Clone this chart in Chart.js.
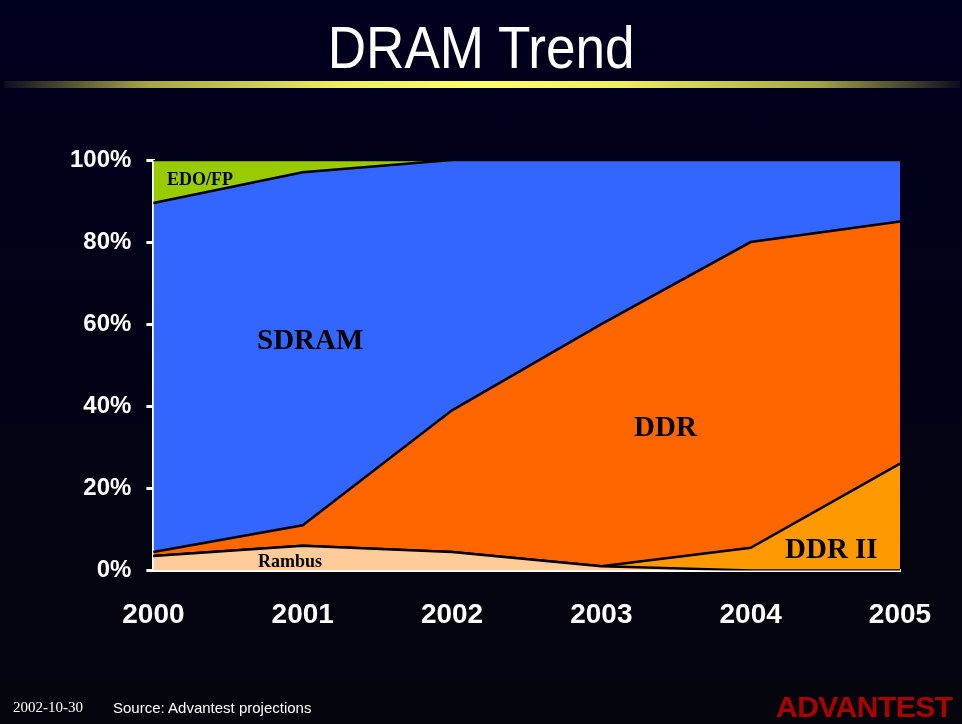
<!DOCTYPE html>
<html>
<head>
<meta charset="utf-8">
<script src="https://cdn.jsdelivr.net/npm/chart.js@4"></script>
<style>
  html, body { margin: 0; padding: 0; }
  body {
    width: 962px; height: 724px; overflow: hidden; position: relative;
    background: linear-gradient(180deg, #00001f 0%, #020214 55%, #05050d 100%);
    font-family: "Liberation Sans", Arial, sans-serif;
  }
  #title {
    position: absolute; left: 0; width: 962px; top: 13px; text-align: center;
    color: #fff; font-size: 59px; line-height: 70px;
    transform: scaleX(0.9); transform-origin: 483px 0;
  }
  #rule {
    position: absolute; left: 4px; width: 956px; top: 81px; height: 7px;
    background: linear-gradient(90deg, rgba(60,60,40,0.2) 0%, #a5a545 15%, #eded60 35%, #ffff66 50%, #eded60 65%, #a5a545 85%, rgba(60,60,40,0.2) 100%);
  }
  #wrap { position: absolute; left: 0; top: 0; width: 962px; height: 724px; }
  .lbl { position: absolute; font-family: "Liberation Serif", "Times New Roman", serif; font-weight: bold; color: #000; white-space: nowrap; }
  #date { position: absolute; left: 13px; top: 699px; color: #fff; font-family: "Liberation Serif", serif; font-size: 15px; }
  #src { position: absolute; left: 113px; top: 699px; color: #fff; font-size: 15px; }
  #logo { position: absolute; left: 776px; top: 690px; color: #aa0000; font-size: 30px; font-weight: bold; letter-spacing: -0.5px; }
</style>
</head>
<body>
<div id="title">DRAM Trend</div>
<div id="rule"></div>
<div id="wrap"><canvas id="chart" width="962" height="724"></canvas></div>
<div class="lbl" style="left:167px;top:169px;font-size:18px;">EDO/FP</div>
<div class="lbl" style="left:257px;top:323px;font-size:29px;">SDRAM</div>
<div class="lbl" style="left:634px;top:410px;font-size:29px;">DDR</div>
<div class="lbl" style="left:785px;top:532px;font-size:29px;">DDR II</div>
<div class="lbl" style="left:258px;top:551px;font-size:18px;">Rambus</div>
<div id="date">2002-10-30</div>
<div id="src">Source: Advantest projections</div>
<div id="logo">ADVANTEST</div>
<script>
// categories
const years = ['2000', '2001', '2002', '2003', '2004', '2005'];

// share of DRAM market (%), bottom to top of the stack
const rambus = [3.5, 6, 4.5, 1, 0, 0];
const ddr2   = [0, 0, 0, 0, 5.5, 26];
const ddr    = [1, 5, 34.5, 59, 74.5, 59];
const sdram  = [85, 86, 61, 40, 20, 15];
const edoFp  = [10.5, 3, 0, 0, 0, 0];

const yTicks = [0, 20, 40, 60, 80, 100];

const mk = (label, data, color, fill) => ({
  label, data, fill,
  backgroundColor: color,
  borderColor: '#000',
  borderWidth: 2.5,
  pointRadius: 0,
  tension: 0,
});

new Chart(document.getElementById('chart'), {
  type: 'line',
  data: {
    labels: years,
    datasets: [
      mk('Rambus', rambus, '#ffcc99', 'origin'),
      mk('DDR II', ddr2, '#ff9900', '-1'),
      mk('DDR', ddr, '#ff6600', '-1'),
      mk('SDRAM', sdram, '#3366ff', '-1'),
      mk('EDO/FP', edoFp, '#99cc00', '-1'),
    ],
  },
  options: {
    responsive: false,
    animation: false,
    layout: { padding: { left: 55, right: 62, top: 160, bottom: 64 } },
    plugins: { legend: { display: false }, tooltip: { enabled: false } },
    scales: {
      x: {
        offset: false,
        grid: { display: false, drawTicks: false },
        border: { display: true, color: '#fff', width: 3 },
        ticks: { color: '#fff', padding: 28, font: { family: 'Liberation Sans', size: 28, weight: 'bold' }, maxRotation: 0 },
      },
      y: {
        stacked: true,
        min: 0, max: 100,
        afterBuildTicks: s => { s.ticks = yTicks.map(v => ({ value: v })); },
        grid: { drawOnChartArea: false, drawTicks: true, tickLength: 7, color: '#fff', lineWidth: 3 },
        border: { display: true, color: '#fff', width: 3 },
        ticks: { color: '#fff', padding: 15, callback: v => v + '%', font: { family: 'Liberation Sans', size: 24, weight: 'bold' } },
      },
    },
  },
});
</script>
</body>
</html>
